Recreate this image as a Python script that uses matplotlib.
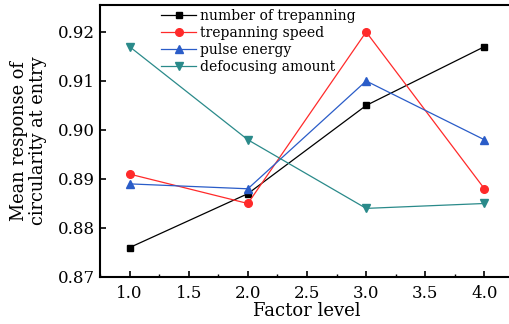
import matplotlib
matplotlib.use("Agg")
import matplotlib.pyplot as plt
from matplotlib.ticker import MultipleLocator

levels = [1.0, 2.0, 3.0, 4.0]
number_of_trepanning = [0.876, 0.887, 0.905, 0.917]
trepanning_speed = [0.891, 0.885, 0.920, 0.888]
pulse_energy = [0.889, 0.888, 0.910, 0.898]
defocusing_amount = [0.917, 0.898, 0.884, 0.885]
labels = ["number of trepanning", "trepanning speed", "pulse energy", "defocusing amount"]

plt.rcParams['font.family'] = ['DejaVu Serif']

fig = plt.figure(figsize=(5.1, 3.24), dpi=100)
ax = fig.add_axes([100/510, 1 - 277/324, 414/510, 272/324])

ax.plot(levels, number_of_trepanning, color='black', marker='s', ms=5, lw=0.9, label=labels[0])
ax.plot(levels, trepanning_speed, color='#ff2a2a', marker='o', ms=5.5, lw=0.9, label=labels[1])
ax.plot(levels, pulse_energy, color='#2a5cc8', marker='^', ms=6, lw=0.9, label=labels[2])
ax.plot(levels, defocusing_amount, color='#2a8a8a', marker='v', ms=6, lw=0.9, label=labels[3])

ax.set_xlim(0.75, 4.25)
ax.set_ylim(0.87, 0.9255)
ax.xaxis.set_major_locator(MultipleLocator(0.5))
ax.xaxis.set_minor_locator(MultipleLocator(0.25))
ax.yaxis.set_major_locator(MultipleLocator(0.01))
ax.xaxis.set_major_formatter(matplotlib.ticker.FormatStrFormatter('%.1f'))
ax.yaxis.set_major_formatter(matplotlib.ticker.FormatStrFormatter('%.2f'))
ax.tick_params(axis='both', direction='in', labelsize=12, width=1.2, length=4)
ax.tick_params(axis='x', pad=6)
ax.tick_params(axis='x', which='minor', direction='in', length=2, width=1)
for s in ax.spines.values():
    s.set_linewidth(1.5)

ax.set_xlabel('Factor level', fontsize=13, labelpad=0)
ax.set_ylabel('Mean response of\ncircularity at entry', fontsize=12.8, labelpad=8, linespacing=1.1)

ax.legend(loc='upper left', bbox_to_anchor=(0.135, 1.005), frameon=False, fontsize=10,
          handlelength=2.5, handletextpad=0.3, labelspacing=0.2, borderaxespad=0)

fig.savefig('out.png', dpi=100)
